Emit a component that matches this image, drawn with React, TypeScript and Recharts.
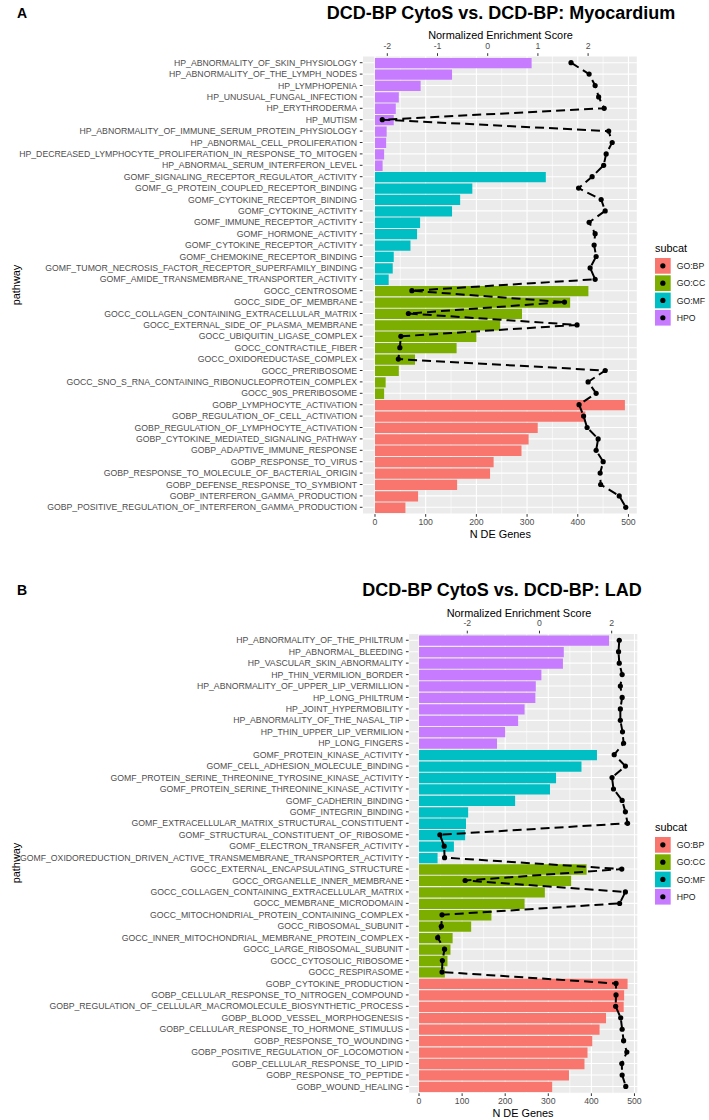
import React from "react";
import { ComposedChart, Bar, Line, XAxis, YAxis, CartesianGrid, Cell } from "recharts";

const subcatLevels = ["GO:BP", "GO:CC", "GO:MF", "HPO"];
const subcatColors: Record<string, string> = {
  "GO:BP": "#F8766D",
  "GO:CC": "#7CAE00",
  "GO:MF": "#00BFC4",
  HPO: "#C77CFF",
};

// ---- Panel A: Myocardium ----
const pathwaysA = [
  "HP_ABNORMALITY_OF_SKIN_PHYSIOLOGY",
  "HP_ABNORMALITY_OF_THE_LYMPH_NODES",
  "HP_LYMPHOPENIA",
  "HP_UNUSUAL_FUNGAL_INFECTION",
  "HP_ERYTHRODERMA",
  "HP_MUTISM",
  "HP_ABNORMALITY_OF_IMMUNE_SERUM_PROTEIN_PHYSIOLOGY",
  "HP_ABNORMAL_CELL_PROLIFERATION",
  "HP_DECREASED_LYMPHOCYTE_PROLIFERATION_IN_RESPONSE_TO_MITOGEN",
  "HP_ABNORMAL_SERUM_INTERFERON_LEVEL",
  "GOMF_SIGNALING_RECEPTOR_REGULATOR_ACTIVITY",
  "GOMF_G_PROTEIN_COUPLED_RECEPTOR_BINDING",
  "GOMF_CYTOKINE_RECEPTOR_BINDING",
  "GOMF_CYTOKINE_ACTIVITY",
  "GOMF_IMMUNE_RECEPTOR_ACTIVITY",
  "GOMF_HORMONE_ACTIVITY",
  "GOMF_CYTOKINE_RECEPTOR_ACTIVITY",
  "GOMF_CHEMOKINE_RECEPTOR_BINDING",
  "GOMF_TUMOR_NECROSIS_FACTOR_RECEPTOR_SUPERFAMILY_BINDING",
  "GOMF_AMIDE_TRANSMEMBRANE_TRANSPORTER_ACTIVITY",
  "GOCC_CENTROSOME",
  "GOCC_SIDE_OF_MEMBRANE",
  "GOCC_COLLAGEN_CONTAINING_EXTRACELLULAR_MATRIX",
  "GOCC_EXTERNAL_SIDE_OF_PLASMA_MEMBRANE",
  "GOCC_UBIQUITIN_LIGASE_COMPLEX",
  "GOCC_CONTRACTILE_FIBER",
  "GOCC_OXIDOREDUCTASE_COMPLEX",
  "GOCC_PRERIBOSOME",
  "GOCC_SNO_S_RNA_CONTAINING_RIBONUCLEOPROTEIN_COMPLEX",
  "GOCC_90S_PRERIBOSOME",
  "GOBP_LYMPHOCYTE_ACTIVATION",
  "GOBP_REGULATION_OF_CELL_ACTIVATION",
  "GOBP_REGULATION_OF_LYMPHOCYTE_ACTIVATION",
  "GOBP_CYTOKINE_MEDIATED_SIGNALING_PATHWAY",
  "GOBP_ADAPTIVE_IMMUNE_RESPONSE",
  "GOBP_RESPONSE_TO_VIRUS",
  "GOBP_RESPONSE_TO_MOLECULE_OF_BACTERIAL_ORIGIN",
  "GOBP_DEFENSE_RESPONSE_TO_SYMBIONT",
  "GOBP_INTERFERON_GAMMA_PRODUCTION",
  "GOBP_POSITIVE_REGULATION_OF_INTERFERON_GAMMA_PRODUCTION",
];
const genesA = [
  309, 152, 90, 47, 41, 37, 23, 22, 18, 15,
  337, 192, 168, 152, 89, 83, 70, 37, 35, 27,
  421, 385, 290, 247, 200, 161, 79, 47, 21, 18,
  493, 415, 321, 303, 289, 234, 227, 162, 85, 60,
];
const nesA = [
  1.66, 2.02, 2.14, 2.21, 2.32, -2.1, 2.41, 2.48, 2.36, 2.31,
  2.08, 1.81, 2.26, 2.34, 2.02, 2.14, 2.12, 2.16, 2.04, 2.14,
  -1.51, 1.53, -1.58, 1.78, -1.73, -1.75, -1.78, 2.34, 2.0, 2.16,
  1.82, 1.91, 1.98, 2.2, 2.16, 2.3, 2.24, 2.25, 2.62, 2.75,
];

// ---- Panel B: LAD ----
const pathwaysB = [
  "HP_ABNORMALITY_OF_THE_PHILTRUM",
  "HP_ABNORMAL_BLEEDING",
  "HP_VASCULAR_SKIN_ABNORMALITY",
  "HP_THIN_VERMILION_BORDER",
  "HP_ABNORMALITY_OF_UPPER_LIP_VERMILLION",
  "HP_LONG_PHILTRUM",
  "HP_JOINT_HYPERMOBILITY",
  "HP_ABNORMALITY_OF_THE_NASAL_TIP",
  "HP_THIN_UPPER_LIP_VERMILION",
  "HP_LONG_FINGERS",
  "GOMF_PROTEIN_KINASE_ACTIVITY",
  "GOMF_CELL_ADHESION_MOLECULE_BINDING",
  "GOMF_PROTEIN_SERINE_THREONINE_TYROSINE_KINASE_ACTIVITY",
  "GOMF_PROTEIN_SERINE_THREONINE_KINASE_ACTIVITY",
  "GOMF_CADHERIN_BINDING",
  "GOMF_INTEGRIN_BINDING",
  "GOMF_EXTRACELLULAR_MATRIX_STRUCTURAL_CONSTITUENT",
  "GOMF_STRUCTURAL_CONSTITUENT_OF_RIBOSOME",
  "GOMF_ELECTRON_TRANSFER_ACTIVITY",
  "GOMF_OXIDOREDUCTION_DRIVEN_ACTIVE_TRANSMEMBRANE_TRANSPORTER_ACTIVITY",
  "GOCC_EXTERNAL_ENCAPSULATING_STRUCTURE",
  "GOCC_ORGANELLE_INNER_MEMBRANE",
  "GOCC_COLLAGEN_CONTAINING_EXTRACELLULAR_MATRIX",
  "GOCC_MEMBRANE_MICRODOMAIN",
  "GOCC_MITOCHONDRIAL_PROTEIN_CONTAINING_COMPLEX",
  "GOCC_RIBOSOMAL_SUBUNIT",
  "GOCC_INNER_MITOCHONDRIAL_MEMBRANE_PROTEIN_COMPLEX",
  "GOCC_LARGE_RIBOSOMAL_SUBUNIT",
  "GOCC_CYTOSOLIC_RIBOSOME",
  "GOCC_RESPIRASOME",
  "GOBP_CYTOKINE_PRODUCTION",
  "GOBP_CELLULAR_RESPONSE_TO_NITROGEN_COMPOUND",
  "GOBP_REGULATION_OF_CELLULAR_MACROMOLECULE_BIOSYNTHETIC_PROCESS",
  "GOBP_BLOOD_VESSEL_MORPHOGENESIS",
  "GOBP_CELLULAR_RESPONSE_TO_HORMONE_STIMULUS",
  "GOBP_RESPONSE_TO_WOUNDING",
  "GOBP_POSITIVE_REGULATION_OF_LOCOMOTION",
  "GOBP_CELLULAR_RESPONSE_TO_LIPID",
  "GOBP_RESPONSE_TO_PEPTIDE",
  "GOBP_WOUND_HEALING",
];
const genesB = [
  441, 336, 334, 284, 271, 270, 245, 230, 200, 181,
  413, 377, 318, 304, 223, 114, 109, 107, 81, 43,
  389, 353, 292, 245, 168, 121, 78, 73, 66, 60,
  484, 476, 475, 434, 419, 402, 391, 384, 348, 309,
];
const nesB = [
  2.21, 2.19, 2.21, 2.29, 2.24, 2.29, 2.24, 2.24, 2.3, 2.33,
  2.07, 2.38, 2.01, 2.05, 2.29, 2.38, 2.44, -2.76, -2.64, -2.63,
  2.28, -2.06, 2.38, 2.22, -2.7, -2.72, -2.82, -2.63, -2.69, -2.7,
  2.12, 2.12, 2.11, 2.25, 2.29, 2.33, 2.42, 2.28, 2.29, 2.39,
];

const genesTicks = [0, 100, 200, 300, 400, 500];
const genesMinorTicks = [50, 150, 250, 350, 450];
const nesTicksA = [-2, -1, 0, 1, 2];
const nesTicksB = [-2, 0, 2];

const subcatOf = (p: string) =>
  p.startsWith("HP_") ? "HPO" : p.startsWith("GOMF") ? "GO:MF" : p.startsWith("GOCC") ? "GO:CC" : "GO:BP";

const buildRows = (paths: string[], genes: number[], nes: number[]) =>
  paths.map((p, i) => ({ pathway: p, genes: genes[i], nes: nes[i], subcat: subcatOf(p) }));

const tickFont = { fontSize: 8.7, fill: "#4D4D4D" };

function Panel(props: {
  rows: any[];
  top: number;
  height: number;
  margin: { top: number; right: number; bottom: number; left: number };
  yWidth: number;
  genesDomain: [number, number];
  nesDomain: [number, number];
  nesTicks: number[];
  bandPad: number;
}) {
  const { rows, top, height, margin, yWidth, genesDomain, nesDomain, nesTicks, bandPad } = props;
  return (
    <div style={{ position: "absolute", left: 0, top }}>
      <ComposedChart layout="vertical" width={709} height={height} data={rows} margin={margin}>
        <XAxis xAxisId="minor" type="number" domain={genesDomain} ticks={genesMinorTicks} allowDataOverflow hide />
        <CartesianGrid xAxisId="minor" horizontal={false} stroke="#FFFFFF" strokeWidth={0.6} fill="#EBEBEB" />
        <CartesianGrid xAxisId="genes" stroke="#FFFFFF" strokeWidth={1.1} />
        <XAxis
          xAxisId="genes"
          type="number"
          orientation="bottom"
          domain={genesDomain}
          ticks={genesTicks}
          allowDataOverflow
          height={20}
          axisLine={false}
          tickLine={{ stroke: "#333333" }}
          tickSize={2.7}
          tickMargin={2.2}
          tick={tickFont}
        />
        <XAxis
          xAxisId="nes"
          type="number"
          orientation="top"
          domain={nesDomain}
          ticks={nesTicks}
          allowDataOverflow
          height={20}
          axisLine={false}
          tickLine={{ stroke: "#333333" }}
          tickSize={2.7}
          tickMargin={4.5}
          tick={tickFont}
        />
        <YAxis
          type="category"
          dataKey="pathway"
          width={yWidth}
          interval={0}
          padding={{ top: bandPad, bottom: bandPad }}
          axisLine={false}
          tickLine={{ stroke: "#333333" }}
          tickSize={2.7}
          tickMargin={2.8}
          tick={tickFont}
        />
        <Bar xAxisId="genes" dataKey="genes" barSize={10.3} isAnimationActive={false}>
          {rows.map((r, i) => (
            <Cell key={i} fill={subcatColors[r.subcat]} />
          ))}
        </Bar>
        <Line
          xAxisId="nes"
          dataKey="nes"
          type="linear"
          stroke="#000000"
          strokeWidth={2}
          strokeDasharray="9 5"
          dot={{ r: 2.6, fill: "#000000", stroke: "#000000", strokeWidth: 0 }}
          activeDot={false}
          isAnimationActive={false}
        />
      </ComposedChart>
    </div>
  );
}

function Txt(props: { x: number; y: number; size: number; bold?: boolean; rotate?: boolean; left?: boolean; children: any }) {
  const { x, y, size, bold, rotate, left, children } = props;
  return (
    <div
      style={{
        position: "absolute",
        left: x,
        top: y,
        fontSize: size,
        fontWeight: bold ? 700 : 400,
        color: "#000",
        whiteSpace: "nowrap",
        lineHeight: 1,
        transform: `translate(${left ? "0" : "-50%"}, -50%)${rotate ? " rotate(-90deg)" : ""}`,
      }}
    >
      {children}
    </div>
  );
}

function SubcatLegend({ x, y }: { x: number; y: number }) {
  return (
    <div style={{ position: "absolute", left: x, top: y }}>
      <div style={{ position: "absolute", left: 0, top: -6, fontSize: 10.9, lineHeight: "12px", whiteSpace: "nowrap" }}>subcat</div>
      <svg width={60} height={80} style={{ position: "absolute", left: 0, top: 10 }}>
        {subcatLevels.map((s, i) => (
          <g key={s} transform={`translate(0, ${i * 17.3})`}>
            <rect x={0} y={0} width={15.7} height={15.7} fill={subcatColors[s]} />
            <circle cx={7.85} cy={7.85} r={2.6} fill="#000" />
            <text x={21.7} y={7.85} dy="0.355em" fontSize={8.7} fill="#1A1A1A">
              {s}
            </text>
          </g>
        ))}
      </svg>
    </div>
  );
}

export default function App() {
  const rowsA = buildRows(pathwaysA, genesA, nesA);
  const rowsB = buildRows(pathwaysB, genesB, nesB);
  return (
    <div
      style={{
        position: "absolute",
        left: 0,
        top: 0,
        width: 709,
        height: 1120,
        overflow: "hidden",
        background: "#FFFFFF",
        fontFamily: '"Liberation Sans", Arial, Helvetica, sans-serif',
      }}
    >
      <Panel
        rows={rowsA}
        top={0}
        height={560}
        margin={{ top: 35.9, right: 71.6, bottom: 25.9, left: 2.5 }}
        yWidth={360}
        genesDomain={[-24.65, 517.65]}
        nesDomain={[-2.494, 2.982]}
        nesTicks={nesTicksA}
        bandPad={1.1}
      />
      <Panel
        rows={rowsB}
        top={578}
        height={542}
        margin={{ top: 35.4, right: 71, bottom: 6.7, left: 8.6 }}
        yWidth={400}
        genesDomain={[-24.2, 508.2]}
        nesDomain={[-3.626, 2.729]}
        nesTicks={nesTicksB}
        bandPad={1.15}
      />

      <Txt x={17} y={13} size={14} bold left>A</Txt>
      <Txt x={501} y={12.5} size={18} bold>DCD-BP CytoS vs. DCD-BP: Myocardium</Txt>
      <Txt x={500.5} y={35} size={10.9}>Normalized Enrichment Score</Txt>
      <Txt x={500.3} y={534} size={10.9}>N DE Genes</Txt>
      <Txt x={16} y={285} size={10.9} rotate>pathway</Txt>
      <SubcatLegend x={655} y={248} />

      <Txt x={17} y={590} size={14} bold left>B</Txt>
      <Txt x={502} y={590} size={18} bold>DCD-BP CytoS vs. DCD-BP: LAD</Txt>
      <Txt x={519} y={612.5} size={10.9}>Normalized Enrichment Score</Txt>
      <Txt x={523} y={1112.7} size={10.9}>N DE Genes</Txt>
      <Txt x={16} y={863} size={10.9} rotate>pathway</Txt>
      <SubcatLegend x={655} y={826.7} />
    </div>
  );
}
